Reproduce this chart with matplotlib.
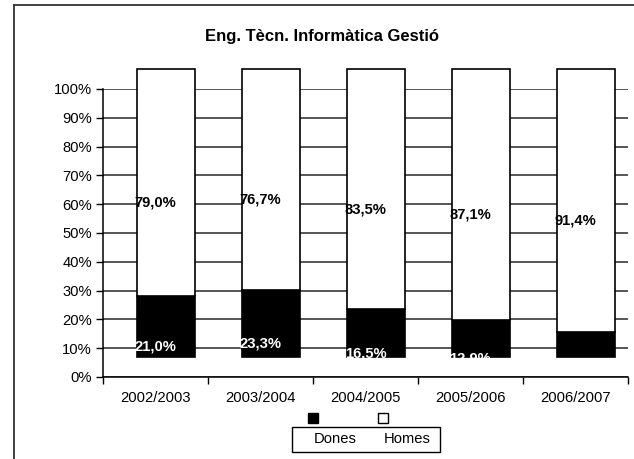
import matplotlib.pyplot as plt
from matplotlib.patches import Rectangle
from matplotlib.lines import Line2D

plt.rcParams['font.family'] = ['Liberation Sans', 'DejaVu Sans']

cursos = ['2002/2003', '2003/2004', '2004/2005', '2005/2006', '2006/2007']
dones = [21.0, 23.3, 16.5, 12.9, 8.6]
homes = [79.0, 76.7, 83.5, 87.1, 91.4]
etiq_dones = ['21,0%', '23,3%', '16,5%', '12,9%', '8,6%']
etiq_homes = ['79,0%', '76,7%', '83,5%', '87,1%', '91,4%']

# desplaçament "3D" de les barres (com a l'Excel)
dx, dy = 0.1, 7
amplada = 0.55

fig = plt.figure(figsize=(6.34, 4.59), dpi=100)
ax = fig.add_axes([103/634, 1-377/459, 525/634, 288/459])

x = list(range(len(cursos)))
xb = [i + dx for i in x]
ax.bar(xb, dones, width=amplada, bottom=dy, color='black', edgecolor='black',
       linewidth=1.2, clip_on=False, zorder=3)
ax.bar(xb, homes, width=amplada, bottom=[d + dy for d in dones], color='white',
       edgecolor='black', linewidth=1.2, clip_on=False, zorder=3)

for i in x:
    ax.text(i, dones[i] / 2, etiq_dones[i], color='white', fontsize=10.6,
            fontweight='bold', ha='center', va='center', zorder=4)
    ax.text(i, dones[i] + homes[i] / 2, etiq_homes[i], color='black', fontsize=10.6,
            fontweight='bold', ha='center', va='center', zorder=4)

ax.set_xlim(-0.5, len(cursos) - 0.5)
ax.set_ylim(0, 100)
ax.set_yticks(range(0, 101, 10))
ax.set_yticklabels([f'{v}%' for v in range(0, 101, 10)])
ax.set_xticks(x)
ax.set_xticklabels(cursos)
ax.set_xticks([i - 0.5 for i in range(len(cursos) + 1)], minor=True)
ax.tick_params(axis='x', which='major', length=0, pad=10, labelsize=10.6)
ax.tick_params(axis='x', which='minor', length=5, width=1, color='black')
ax.tick_params(axis='y', length=5, width=1, pad=3, labelsize=10.6)
ax.yaxis.grid(True, color='#3a3a3a', linewidth=1.2, zorder=0)
ax.set_axisbelow(True)
for s in ['top', 'right']:
    ax.spines[s].set_visible(False)
for s in ['left', 'bottom']:
    ax.spines[s].set_linewidth(1.1)

fig.text(322/634, 1-37/459, 'Eng. Tècn. Informàtica Gestió', fontsize=12,
         fontweight='bold', ha='center', va='center')

# marc del gràfic
fig.add_artist(Line2D([13.5/634, 13.5/634], [0, 1-5/459], transform=fig.transFigure,
                      color='#333333', linewidth=1.3))
fig.add_artist(Line2D([13.5/634, 1], [1-5/459, 1-5/459], transform=fig.transFigure,
                      color='#333333', linewidth=1.3))

# llegenda
fig.add_artist(Rectangle((292/634, 1-452/459), 148/634, 25/459, transform=fig.transFigure,
                         facecolor='white', edgecolor='black', linewidth=1))
fig.add_artist(Rectangle((308/634, 1-423/459), 10/634, 10/459, transform=fig.transFigure,
                         facecolor='black', edgecolor='black', linewidth=1))
fig.add_artist(Rectangle((378/634, 1-423/459), 10/634, 10/459, transform=fig.transFigure,
                         facecolor='white', edgecolor='black', linewidth=1))
fig.text(335/634, 1-439/459, 'Dones', fontsize=10.6, ha='center', va='center')
fig.text(407/634, 1-439/459, 'Homes', fontsize=10.6, ha='center', va='center')

fig.savefig('out.png', dpi=100)
